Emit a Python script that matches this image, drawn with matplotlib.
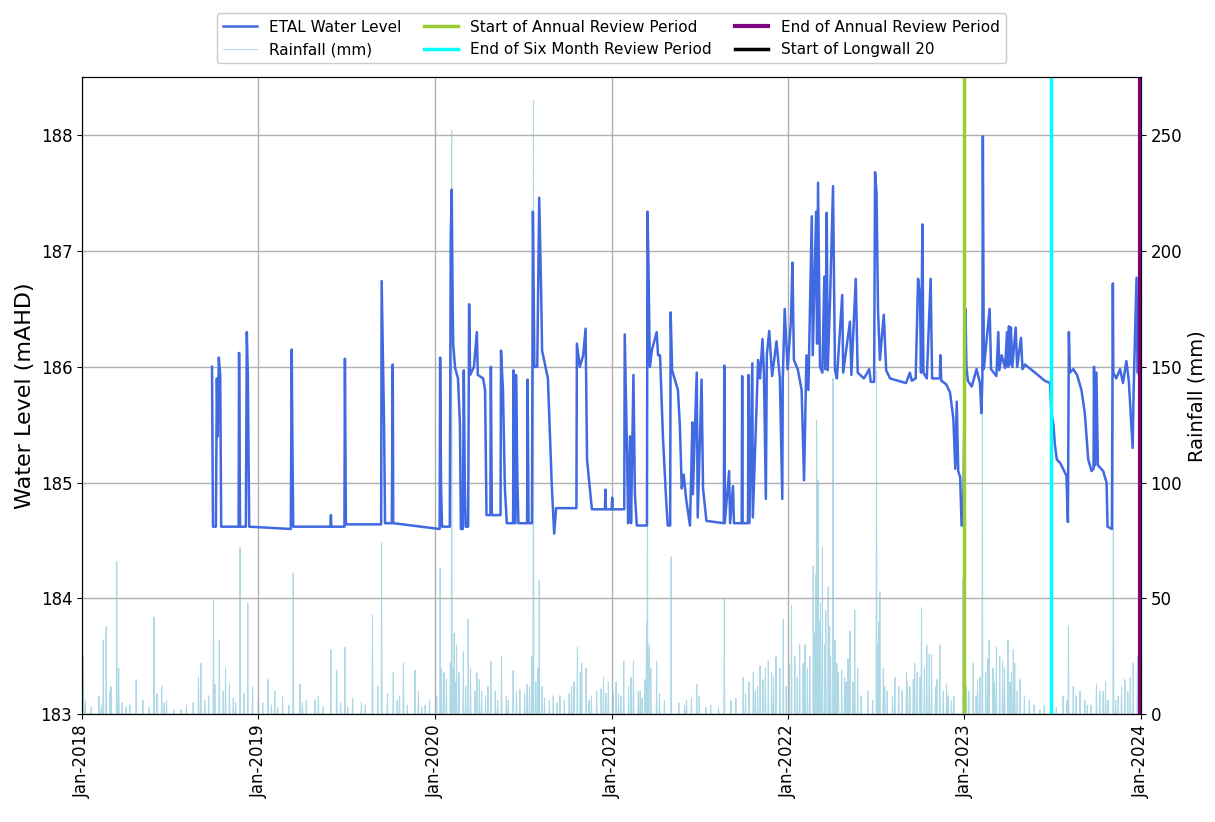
import matplotlib.pyplot as plt
import matplotlib.dates as mdates
import pandas as pd

# ETAL water level (mAHD)
level_dates = [
    "2018-09-27", "2018-09-29", "2018-10-05", "2018-10-07", "2018-10-09", "2018-10-11", "2018-10-14", "2018-10-16",
    "2018-11-21", "2018-11-22", "2018-11-24", "2018-12-06", "2018-12-08", "2018-12-10", "2018-12-13",
    "2019-03-09", "2019-03-11", "2019-03-12", "2019-03-14", "2019-05-30", "2019-05-31", "2019-06-01",
    "2019-06-28", "2019-06-29", "2019-07-01", "2019-09-12", "2019-09-13", "2019-09-16", "2019-09-18", "2019-09-20",
    "2019-10-04", "2019-10-06", "2019-10-07",
    "2020-01-11", "2020-01-12", "2020-01-14", "2020-01-16", "2020-02-01", "2020-02-03", "2020-02-05", "2020-02-07",
    "2020-02-08", "2020-02-12", "2020-02-18", "2020-02-22", "2020-02-24", "2020-02-28", "2020-03-01", "2020-03-03",
    "2020-03-05", "2020-03-10", "2020-03-12", "2020-03-14", "2020-03-22", "2020-03-28", "2020-03-30", "2020-04-10",
    "2020-04-14", "2020-04-17", "2020-04-25", "2020-04-26", "2020-04-28", "2020-05-16", "2020-05-17", "2020-05-21",
    "2020-05-25", "2020-05-29", "2020-06-11", "2020-06-12", "2020-06-14", "2020-06-16", "2020-06-17", "2020-06-20",
    "2020-06-22", "2020-07-10", "2020-07-11", "2020-07-13", "2020-07-20", "2020-07-22", "2020-07-25", "2020-07-31",
    "2020-08-04", "2020-08-08", "2020-08-10", "2020-08-22", "2020-08-30", "2020-09-04", "2020-09-08", "2020-10-20",
    "2020-10-21", "2020-10-27", "2020-11-03", "2020-11-08", "2020-11-11", "2020-11-21", "2020-12-18", "2020-12-19",
    "2020-12-20",
    "2021-01-01", "2021-01-02", "2021-01-03", "2021-01-27", "2021-01-28", "2021-02-02", "2021-02-04", "2021-02-08",
    "2021-02-10", "2021-02-15", "2021-02-18", "2021-02-22", "2021-03-15", "2021-03-16", "2021-03-18", "2021-03-21",
    "2021-03-25", "2021-04-04", "2021-04-07", "2021-04-11", "2021-04-17", "2021-04-23", "2021-04-27", "2021-05-02",
    "2021-05-03", "2021-05-06", "2021-05-18", "2021-05-22", "2021-05-26", "2021-05-30", "2021-06-04", "2021-06-12",
    "2021-06-17", "2021-06-18", "2021-06-26", "2021-06-28", "2021-07-06", "2021-07-09", "2021-07-16", "2021-08-21",
    "2021-08-22", "2021-08-23", "2021-09-01", "2021-09-03", "2021-09-09", "2021-09-11", "2021-09-27", "2021-09-28",
    "2021-09-29", "2021-10-10", "2021-10-11", "2021-10-13", "2021-10-19", "2021-10-20", "2021-10-31", "2021-11-04",
    "2021-11-09", "2021-11-12", "2021-11-16", "2021-11-18", "2021-11-23", "2021-11-29", "2021-12-08", "2021-12-15",
    "2021-12-20", "2021-12-21", "2021-12-25", "2021-12-31",
    "2022-01-07", "2022-01-10", "2022-01-13", "2022-01-21", "2022-01-29", "2022-02-03", "2022-02-08", "2022-02-12",
    "2022-02-15", "2022-02-19", "2022-02-21", "2022-02-26", "2022-02-28", "2022-03-02", "2022-03-04", "2022-03-08",
    "2022-03-13", "2022-03-17", "2022-03-19", "2022-03-22", "2022-03-24", "2022-03-29", "2022-04-04", "2022-04-08",
    "2022-04-12", "2022-04-23", "2022-04-25", "2022-05-09", "2022-05-12", "2022-05-21", "2022-05-25", "2022-06-07",
    "2022-06-18", "2022-06-21", "2022-06-28", "2022-06-30", "2022-07-03", "2022-07-06", "2022-07-10", "2022-07-18",
    "2022-07-23", "2022-07-31", "2022-09-02", "2022-09-10", "2022-09-14", "2022-09-22", "2022-09-27", "2022-10-01",
    "2022-10-03", "2022-10-06", "2022-10-08", "2022-10-15", "2022-10-23", "2022-10-26", "2022-11-11", "2022-11-12",
    "2022-11-14", "2022-11-24", "2022-12-02", "2022-12-09", "2022-12-13", "2022-12-16", "2022-12-19", "2022-12-23",
    "2022-12-26", "2022-12-29", "2022-12-31",
    "2023-01-03", "2023-01-05", "2023-01-08", "2023-01-16", "2023-01-26", "2023-02-02", "2023-02-05", "2023-02-07",
    "2023-02-08", "2023-02-10", "2023-02-22", "2023-02-25", "2023-03-08", "2023-03-12", "2023-03-14", "2023-03-19",
    "2023-03-26", "2023-03-30", "2023-04-01", "2023-04-03", "2023-04-05", "2023-04-07", "2023-04-10", "2023-04-17",
    "2023-04-20", "2023-04-28", "2023-05-01", "2023-05-06", "2023-05-27", "2023-06-16", "2023-06-27", "2023-06-30",
    "2023-07-04", "2023-07-07", "2023-07-11", "2023-07-18", "2023-07-24", "2023-07-31", "2023-08-03", "2023-08-05",
    "2023-08-07", "2023-08-14", "2023-08-22", "2023-08-31", "2023-09-07", "2023-09-14", "2023-09-21", "2023-09-25",
    "2023-09-26", "2023-09-28", "2023-10-01", "2023-10-04", "2023-10-15", "2023-10-22", "2023-10-24", "2023-11-02",
    "2023-11-04", "2023-11-05", "2023-11-11", "2023-11-19", "2023-11-25", "2023-12-02", "2023-12-07", "2023-12-15",
    "2023-12-17", "2023-12-23", "2023-12-25", "2023-12-30",
]
level_values = [
    186.00, 184.62, 184.62, 185.90, 185.40, 186.08, 185.93, 184.62,
    184.62, 186.12, 184.62, 184.62, 186.30, 185.95, 184.62,
    184.60, 186.15, 185.50, 184.62, 184.62, 184.72, 184.62,
    184.62, 186.07, 184.64, 184.64, 186.74, 186.00, 185.50, 184.65,
    184.65, 186.02, 184.65,
    184.60, 186.08, 184.95, 184.62, 184.62, 187.13, 187.53, 186.50,
    186.20, 185.99, 185.90, 185.50, 184.60, 184.60, 185.97, 185.00,
    184.62, 184.62, 186.54, 185.93, 186.00, 186.30, 185.93, 185.90,
    185.80, 184.72, 184.72, 186.00, 184.72, 184.72, 186.14, 185.80,
    184.95, 184.65, 184.65, 185.97, 184.65, 184.65, 185.93, 185.00,
    184.65, 184.65, 185.89, 184.65, 184.65, 187.34, 186.00, 186.00,
    187.46, 186.65, 186.14, 185.90, 184.98, 184.56, 184.78, 184.78,
    186.20, 186.00, 186.10, 186.33, 185.20, 184.77, 184.77, 184.94,
    184.77,
    184.77, 184.87, 184.77, 184.77, 186.28, 185.20, 184.65, 185.40,
    184.65, 185.93, 184.90, 184.63, 184.63, 187.34, 186.90, 186.00,
    186.14, 186.30, 186.10, 186.10, 185.40, 184.90, 184.63, 184.63,
    186.47, 185.97, 185.80, 185.50, 184.95, 185.07, 184.86, 184.63,
    185.52, 184.90, 185.95, 184.70, 185.89, 184.95, 184.67, 184.65,
    186.01, 184.65, 185.10, 184.65, 184.97, 184.65, 184.65, 185.92,
    184.65, 184.65, 185.93, 184.65, 186.03, 184.70, 186.06, 185.90,
    186.24, 185.95, 184.86, 186.10, 186.31, 185.92, 186.22, 185.90,
    184.86, 185.90, 186.50, 185.98,
    186.40, 186.90, 186.06, 185.98, 185.80, 185.02, 186.10, 185.80,
    186.45, 187.30, 186.10, 186.96, 187.34, 186.20, 187.59, 186.00,
    185.95, 186.78, 185.98, 187.33, 185.97, 186.60, 187.56, 185.97,
    185.90, 186.62, 185.95, 186.39, 185.93, 186.76, 185.95, 185.90,
    185.98, 185.87, 185.87, 187.68, 187.50, 186.50, 186.06, 186.45,
    185.97, 185.90, 185.86, 185.95, 185.88, 185.90, 186.76, 186.60,
    185.95, 187.23, 185.95, 185.90, 186.76, 185.90, 185.90, 186.10,
    185.88, 185.85, 185.78, 185.55, 185.12, 185.70, 185.10, 185.05,
    184.63, 184.63, 185.30,
    186.50, 186.00, 185.88, 185.83, 185.98, 185.86, 185.60, 185.90,
    187.99, 185.98, 186.50, 185.98, 185.92, 186.30, 185.97, 186.10,
    185.99, 186.30, 186.00, 186.35, 186.02, 186.34, 186.00, 186.34,
    186.00, 186.25, 185.98, 186.02, 185.95, 185.88, 185.86, 185.60,
    185.50, 185.33, 185.20, 185.17, 185.12, 185.06, 184.66, 186.30,
    185.95, 185.98, 185.93, 185.80, 185.60, 185.20, 185.10, 185.12,
    186.00, 185.15, 185.95, 185.15, 185.10, 185.00, 184.62, 184.60,
    186.72, 185.95, 185.90, 185.98, 185.86, 186.05, 185.88, 185.30,
    185.80, 186.77, 185.95, 185.98,
]

# daily rainfall (mm) on rain days; all other days are dry
rain_dates = [
    "2018-01-04", "2018-02-14", "2018-02-20", "2018-02-28", "2018-03-14", "2018-04-23", "2018-05-07", "2018-05-30",
    "2018-06-15", "2018-06-25", "2018-08-19", "2018-08-30", "2018-09-04", "2018-09-30", "2018-10-03", "2018-10-12",
    "2018-11-02", "2018-11-24", "2018-12-10",
    "2019-01-01", "2019-01-21", "2019-02-04", "2019-03-14", "2019-03-28", "2019-04-28", "2019-05-31", "2019-06-12",
    "2019-06-29", "2019-08-25", "2019-09-13", "2019-10-07", "2019-10-28", "2019-11-21", "2019-12-21",
    "2020-01-12", "2020-01-15", "2020-02-05", "2020-02-08", "2020-02-29", "2020-03-10", "2020-03-24", "2020-03-28",
    "2020-04-07", "2020-04-26", "2020-05-18", "2020-06-11", "2020-07-10", "2020-07-23", "2020-08-04", "2020-09-02",
    "2020-09-16", "2020-10-22", "2020-10-31", "2020-11-09", "2020-12-15",
    "2021-01-04", "2021-01-26", "2021-02-15", "2021-03-11", "2021-03-16", "2021-04-04", "2021-05-04", "2021-06-05",
    "2021-06-26", "2021-08-22", "2021-09-30", "2021-10-21", "2021-11-04", "2021-11-21", "2021-12-07", "2021-12-22",
    "2022-01-08", "2022-02-01", "2022-02-22", "2022-03-01", "2022-03-04", "2022-03-13", "2022-03-25", "2022-04-04",
    "2022-04-22", "2022-05-09", "2022-05-19", "2022-07-03", "2022-07-10", "2022-07-17", "2022-09-03", "2022-09-17",
    "2022-10-04", "2022-10-25", "2022-11-11", "2022-11-25", "2022-12-29",
    "2023-01-19", "2023-02-07", "2023-02-21", "2023-03-08", "2023-03-21", "2023-04-01", "2023-04-12", "2023-04-26",
    "2023-06-06", "2023-07-24", "2023-08-04", "2023-08-14", "2023-09-07", "2023-10-01", "2023-10-15", "2023-11-05",
    "2023-11-29", "2023-12-16",
    # smaller falls, estimated
    "2018-01-20", "2018-02-05", "2018-03-02", "2018-03-25", "2018-04-10", "2018-05-20", "2018-06-05", "2018-07-10",
    "2018-08-05", "2018-09-12", "2018-10-20", "2018-11-10", "2018-12-20",
    "2019-01-10", "2019-02-20", "2019-03-05", "2019-04-10", "2019-05-15", "2019-06-20", "2019-07-15", "2019-08-10",
    "2019-09-25", "2019-10-15", "2019-11-05", "2019-12-05",
    "2020-01-25", "2020-02-15", "2020-02-20", "2020-03-05", "2020-04-15", "2020-05-05", "2020-06-01", "2020-06-25",
    "2020-07-05", "2020-07-28", "2020-08-15", "2020-09-10", "2020-09-25", "2020-10-10", "2020-11-20", "2020-12-01",
    "2020-12-25",
    "2021-01-15", "2021-02-05", "2021-03-01", "2021-03-20", "2021-03-23", "2021-04-20", "2021-05-20", "2021-07-01",
    "2021-07-25", "2021-08-10", "2021-09-15", "2021-10-05", "2021-10-30", "2021-11-10", "2021-11-28", "2021-12-15",
    "2022-01-15", "2022-01-25", "2022-02-10", "2022-02-25", "2022-03-07", "2022-03-09", "2022-03-18", "2022-03-30",
    "2022-04-08", "2022-04-15", "2022-05-01", "2022-05-25", "2022-06-15", "2022-07-05", "2022-07-20", "2022-08-10",
    "2022-08-25", "2022-09-10", "2022-09-25", "2022-10-10", "2022-10-15", "2022-11-02", "2022-11-18", "2022-12-10",
    "2023-01-05", "2023-01-28", "2023-02-14", "2023-03-01", "2023-03-15", "2023-04-05", "2023-04-20", "2023-05-15",
    "2023-06-15", "2023-07-10", "2023-08-20", "2023-09-20", "2023-10-25", "2023-11-15", "2023-12-05", "2023-12-25",
    "2018-01-08", "2018-02-10", "2018-03-18", "2018-04-02", "2018-06-20", "2018-07-25", "2018-09-20", "2018-10-25",
    "2018-11-15", "2018-12-02", "2019-01-28", "2019-02-10", "2019-04-02", "2019-05-05", "2019-07-05", "2019-08-02",
    "2019-09-05", "2019-10-20", "2019-11-28", "2019-12-12",
    "2020-01-05", "2020-01-20", "2020-02-02", "2020-02-10", "2020-02-12", "2020-03-15", "2020-04-02", "2020-04-20",
    "2020-05-10", "2020-05-28", "2020-06-18", "2020-07-15", "2020-07-20", "2020-08-01", "2020-08-10", "2020-08-25",
    "2020-10-05", "2020-10-15", "2020-10-28", "2020-11-15", "2020-12-10", "2020-12-20",
    "2021-01-10", "2021-01-20", "2021-02-10", "2021-02-25", "2021-03-05", "2021-03-14", "2021-03-19", "2021-04-10",
    "2021-06-01", "2021-06-15", "2021-07-15", "2021-09-05", "2021-10-12", "2021-10-25", "2021-11-15", "2021-12-02",
    "2021-12-28",
    "2022-01-03", "2022-01-20", "2022-02-05", "2022-02-15", "2022-02-27", "2022-03-02", "2022-03-06", "2022-03-20",
    "2022-03-28", "2022-04-12", "2022-04-28", "2022-05-05", "2022-05-15", "2022-06-01", "2022-06-25", "2022-07-08",
    "2022-07-25", "2022-08-05", "2022-08-18", "2022-09-05", "2022-09-20", "2022-10-01", "2022-10-20", "2022-11-05",
    "2022-11-28", "2022-12-05",
    "2023-01-10", "2023-01-25", "2023-02-02", "2023-02-18", "2023-03-04", "2023-03-25", "2023-04-08", "2023-04-15",
    "2023-05-05", "2023-05-25", "2023-07-02", "2023-08-01", "2023-08-28", "2023-09-12", "2023-10-08", "2023-10-20",
    "2023-11-10", "2023-11-22", "2023-12-10",
]
rain_values = [
    25, 32, 38, 10, 66, 15, 6, 42,
    12, 6, 5, 16, 22, 50, 13, 32,
    13, 72, 48,
    10, 15, 10, 61, 13, 6, 28, 19,
    29, 43, 74, 18, 22, 19, 6,
    63, 20, 252, 20, 27, 41, 10, 18,
    10, 23, 25, 19, 13, 265, 58, 8,
    8, 29, 22, 20, 16,
    9, 23, 23, 15, 110, 23, 68, 6,
    13, 50, 16, 18, 21, 23, 25, 41,
    47, 22, 64, 127, 101, 72, 55, 145,
    19, 36, 45, 148, 53, 20, 18, 15,
    46, 26, 30, 13, 58,
    22, 132, 32, 29, 23, 32, 28, 15,
    2, 8, 38, 12, 6, 13, 10, 140,
    15, 22,
    3, 8, 12, 5, 4, 3, 9, 2,
    4, 6, 10, 7, 12,
    5, 8, 4, 6, 3, 5, 7, 4,
    9, 6, 4, 3,
    15, 30, 18, 12, 8, 10, 6, 11,
    9, 14, 7, 5, 6, 12, 8, 10,
    14,
    9, 12, 10, 30, 20, 6, 5, 8,
    4, 3, 7, 9, 12, 15, 18, 20,
    25, 30, 20, 35, 40, 48, 30, 25,
    32, 18, 14, 20, 10, 30, 12, 16,
    10, 12, 18, 20, 30, 12, 10, 8,
    12, 15, 18, 20, 25, 14, 10, 6,
    4, 3, 8, 4, 6, 8, 10, 25,
    6, 4, 20, 3, 5, 2, 8, 20,
    5, 9, 4, 3, 5, 8, 3, 5,
    12, 8, 10, 4,
    8, 18, 22, 35, 14, 20, 15, 12,
    6, 8, 10, 12, 25, 20, 12, 6,
    9, 14, 18, 6, 11, 9,
    14, 8, 16, 10, 7, 40, 25, 9,
    4, 7, 3, 6, 14, 10, 20, 16,
    12,
    22, 16, 30, 25, 60, 80, 35, 45,
    38, 22, 16, 24, 14, 8, 6, 40,
    10, 8, 12, 14, 22, 16, 26, 15,
    8, 6,
    10, 8, 16, 24, 14, 20, 18, 22,
    8, 4, 3, 6, 10, 4, 10, 14,
    6, 12, 16,
]

annual_start = "2023-01-01"
six_month_end = "2023-06-30"
annual_end = "2023-12-31"
longwall20_start = "2024-02-01"

level = pd.Series(level_values, index=pd.to_datetime(level_dates))
rain = pd.Series(rain_values, index=pd.to_datetime(rain_dates)).groupby(level=0).max()
days = pd.date_range("2018-01-01", "2023-12-31", freq="D")
rain = rain.reindex(days, fill_value=0)

fig = plt.figure(figsize=(12.15, 8.22), dpi=100)
ax = fig.add_axes([0.0675, 0.131, 0.8715, 0.775])
ax2 = ax.twinx()
ax.set_zorder(ax2.get_zorder() + 1)
ax.patch.set_visible(False)

l2, = ax2.plot(rain.index, rain.values, color="lightblue", lw=0.7, label="Rainfall (mm)")
l1, = ax.plot(level.index, level.values, color="royalblue", lw=1.8, label="ETAL Water Level")

v1 = ax.axvline(pd.Timestamp(annual_start), color="yellowgreen", lw=2.5, label="Start of Annual Review Period")
v2 = ax.axvline(pd.Timestamp(six_month_end), color="cyan", lw=2.5, label="End of Six Month Review Period")
v3 = ax.axvline(pd.Timestamp(annual_end), color="purple", lw=3, label="End of Annual Review Period")
v4 = ax.axvline(pd.Timestamp(longwall20_start), color="black", lw=2.5, label="Start of Longwall 20")

ax.set_xlim(pd.Timestamp("2018-01-01"), pd.Timestamp("2024-01-01"))
ax.set_ylim(183, 188.5)
ax2.set_ylim(0, 275)
ax.set_yticks([183, 184, 185, 186, 187, 188])
ax2.set_yticks([0, 50, 100, 150, 200, 250])

ax.xaxis.set_major_locator(mdates.YearLocator())
ax.xaxis.set_major_formatter(mdates.DateFormatter("%b-%Y"))
ax.tick_params(axis="x", labelrotation=90, labelsize=12)
ax.tick_params(axis="y", labelsize=12)
ax2.tick_params(axis="y", labelsize=12)
ax.grid(True, color="#b0b0b0", lw=1)

ax.set_ylabel("Water Level (mAHD)", fontsize=16)
ax2.set_ylabel("Rainfall (mm)", fontsize=14)

ax.legend(handles=[l1, l2, v1, v2, v3, v4], loc="lower center", bbox_to_anchor=(0.5, 1.01),
          ncol=3, fontsize=11, handlelength=2.2, columnspacing=1.5, framealpha=1)

fig.savefig("out.png", dpi=100)
